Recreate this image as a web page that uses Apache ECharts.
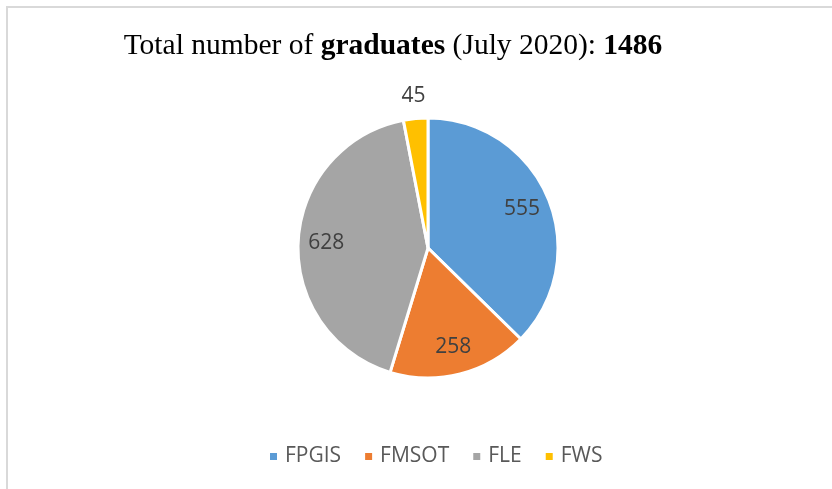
<!DOCTYPE html>
<html>
<head>
<meta charset="utf-8">
<script src="https://cdn.jsdelivr.net/npm/echarts@6/dist/echarts.min.js"></script>
<style>
html, body { margin: 0; padding: 0; background: #fff; }
#chart { width: 832px; height: 489px; }
</style>
</head>
<body>
<div id="chart"></div>
<script>
// 学院名称和毕业生人数
var faculties = ['FPGIS', 'FMSOT', 'FLE', 'FWS'];
var graduates = [555, 258, 628, 45];
var colors = ['#5b9bd5', '#ed7d31', '#a5a5a5', '#ffc000'];
var totalGraduates = 1486;

var myChart = echarts.init(document.getElementById('chart'));

var pieCenter = [428, 248];

function pieData(showFn) {
	var result = [];
	for (var i = 0; i < faculties.length; i++) {
		result.push({
			name : faculties[i],
			value : graduates[i],
			label : { show : showFn(i) }
		});
	}
	return result;
}

var option = {
	color : colors,
	graphic : [ {
		type : 'rect',
		shape : { x : 7, y : 7, width : 900, height : 600 },
		style : { fill : 'none', stroke : '#d9d9d9', lineWidth : 2 },
		silent : true
	} ],
	title : {
		text : '{n|Total number of }{b|graduates}{n| (July 2020): }{b|' + totalGraduates + '}',
		left : 388,
		top : 26,
		textAlign : 'center',
		textStyle : {
			fontWeight : 'normal',
			rich : {
				n : { fontFamily : 'Liberation Serif', fontSize : 29.5, fontWeight : 'normal', color : '#000' },
				b : { fontFamily : 'Liberation Serif', fontSize : 29.5, fontWeight : 'bold', color : '#000' }
			}
		}
	},
	legend : {
		data : faculties,
		left : 263,
		top : 441,
		icon : 'rect',
		itemWidth : 9,
		itemHeight : 9,
		itemGap : 22,
		selectedMode : false,
		textStyle : {
			fontFamily : 'Open Sans',
			fontSize : 21,
			color : '#595959',
			padding : [0, 0, 0, 2]
		}
	},
	series : [ {
		// 饼图本体
		type : 'pie',
		center : pieCenter,
		radius : 130,
		startAngle : 90,
		clockwise : true,
		silent : true,
		itemStyle : { borderColor : '#fff', borderWidth : 3 },
		label : { show : false },
		labelLine : { show : false },
		data : pieData(function() { return false; })
	}, {
		// 扇区内的数值标签
		type : 'pie',
		center : pieCenter,
		radius : [0, 198],
		startAngle : 90,
		silent : true,
		itemStyle : { color : 'transparent' },
		label : {
			position : 'inside',
			formatter : '{c}',
			fontFamily : 'Open Sans',
			fontSize : 21,
			color : '#404040'
		},
		data : pieData(function(i) { return i < 3; })
	}, {
		// 小扇区的外部标签
		type : 'pie',
		center : pieCenter,
		radius : [0, 300],
		startAngle : 90,
		silent : true,
		itemStyle : { color : 'transparent' },
		label : {
			position : 'inside',
			formatter : '{c}',
			fontFamily : 'Open Sans',
			fontSize : 21,
			color : '#404040'
		},
		data : pieData(function(i) { return i == 3; })
	} ]
};

myChart.setOption(option);
</script>
</body>
</html>
